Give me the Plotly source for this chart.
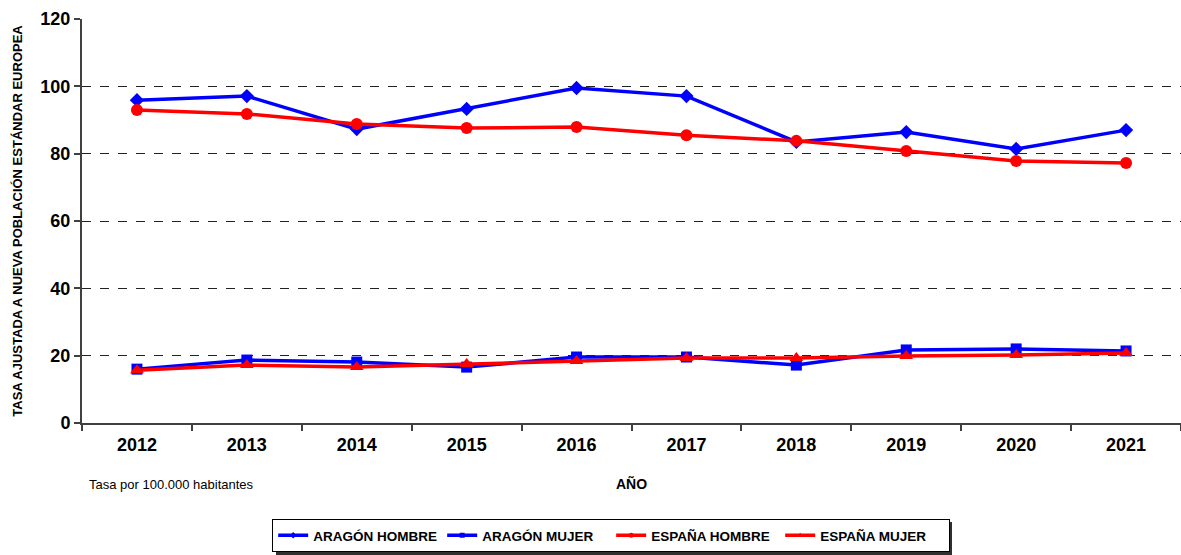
import plotly.graph_objects as go

years = ["2012", "2013", "2014", "2015", "2016", "2017", "2018", "2019", "2020", "2021"]
aragon_hombre = [95.9, 97.1, 87.3, 93.3, 99.5, 97.1, 83.5, 86.4, 81.4, 87.0]
aragon_mujer = [16.0, 18.7, 18.1, 16.6, 19.6, 19.6, 17.2, 21.7, 22.0, 21.4]
espana_hombre = [93.0, 91.8, 88.8, 87.6, 87.9, 85.5, 83.8, 80.8, 77.8, 77.2]
espana_mujer = [15.7, 17.2, 16.6, 17.5, 18.4, 19.3, 19.3, 19.9, 20.2, 20.8]
y_ticks = [0, 20, 40, 60, 80, 100, 120]

BLUE = "#0000ff"
RED = "#ff0000"
FONT = "Liberation Sans, Arial, sans-serif"

fig = go.Figure()
series = [
    ("ARAGÓN HOMBRE", aragon_hombre, BLUE, "diamond", 11),
    ("ARAGÓN MUJER", aragon_mujer, BLUE, "square", 11),
    ("ESPAÑA HOMBRE", espana_hombre, RED, "circle", 12),
    ("ESPAÑA MUJER", espana_mujer, RED, "triangle-up", 12),
]
for name, vals, col, sym, sz in series:
    fig.add_trace(go.Scatter(
        x=years, y=vals, name=name, mode="lines+markers",
        line=dict(color=col, width=3.5),
        marker=dict(symbol=sym, size=sz, color=col),
        showlegend=False,
    ))
# legend-only entries with small markers as in the reference legend
for name, vals, col, sym, sz in series:
    fig.add_trace(go.Scatter(
        x=[None], y=[None], name=name, mode="lines+markers",
        line=dict(color=col, width=3.5),
        marker=dict(symbol=sym, size=5, color=col),
        showlegend=True,
    ))

fig.update_layout(
    width=1181, height=555,
    margin=dict(l=82, r=0, t=19, b=132),
    paper_bgcolor="white", plot_bgcolor="white",
    font=dict(family=FONT, color="black"),
    showlegend=True,
    legend=dict(
        orientation="h", x=0.4815, xanchor="center", y=-0.2376, yanchor="top",
        bordercolor="black", borderwidth=1, bgcolor="white",
        font=dict(family=FONT, size=13.5, color="black", weight="bold"),
        tracegroupgap=0, entrywidth=124, entrywidthmode="pixels",
    ),
    xaxis=dict(
        type="category", range=[-0.5, 9.5], automargin=False,
        showline=True, linecolor="#404040", linewidth=2,
        ticks="outside", tickson="boundaries", ticklen=6, tickcolor="#404040", tickwidth=2,
        tickfont=dict(family=FONT, size=18, color="black", weight="bold"),
        ticklabelstandoff=4,
        showgrid=False, zeroline=False,
        title=dict(text="AÑO", font=dict(family=FONT, size=14, color="black", weight="bold"), standoff=26),
    ),
    yaxis=dict(
        range=[0, 120], tickvals=y_ticks, automargin=False,
        showline=True, linecolor="#404040", linewidth=2,
        ticks="outside", ticklen=6, tickcolor="#404040", tickwidth=2,
        tickfont=dict(family=FONT, size=18, color="black", weight="bold"),
        showgrid=True, gridcolor="#222222", griddash="dash", gridwidth=1,
        zeroline=False,
        title=dict(text="TASA AJUSTADA A NUEVA POBLACIÓN ESTÁNDAR EUROPEA",
                   font=dict(family=FONT, size=13, color="black", weight="bold"), standoff=15),
    ),
)

# drop shadow behind the legend box
fig.add_shape(
    type="rect", xref="paper", yref="paper",
    x0=(276 - 82) / 1099, x1=(952 - 82) / 1099,
    y0=(423 - 558) / 404, y1=(423 - 522) / 404,
    fillcolor="#303030", line=dict(width=0), layer="above",
)

fig.add_annotation(
    text="Tasa por 100.000 habitantes", xref="paper", yref="paper",
    x=0.005, y=-0.151, xanchor="left", yanchor="middle", showarrow=False,
    font=dict(family=FONT, size=13, color="black"),
)

fig.write_html(
    "out.html",
    config={"displayModeBar": False},
    post_script="document.body.style.margin='0';document.body.style.padding='0';",
)
